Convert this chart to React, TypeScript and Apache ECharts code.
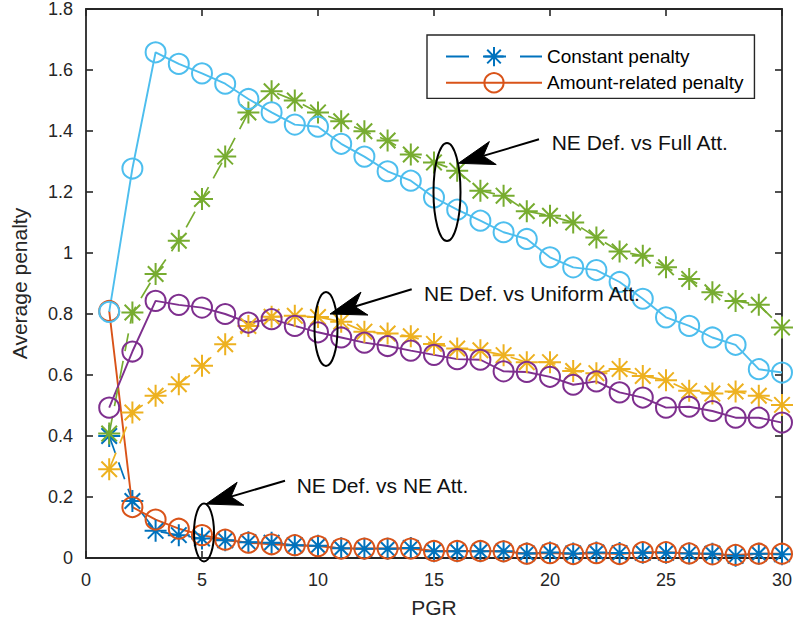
import React, { useEffect, useRef } from "react";
import * as echarts from "echarts";

// ---------- data ----------
const pgr = [1, 2, 3, 4, 5, 6, 7, 8, 9, 10, 11, 12, 13, 14, 15, 16, 17, 18, 19, 20, 21, 22, 23, 24, 25, 26, 27, 28, 29, 30];

// NE Def. vs NE Att.
const constNE = [0.40, 0.187, 0.089, 0.075, 0.064, 0.058, 0.052, 0.050, 0.042, 0.040, 0.032, 0.030, 0.030, 0.033, 0.022, 0.022, 0.022, 0.022, 0.015, 0.018, 0.015, 0.018, 0.016, 0.017, 0.017, 0.015, 0.014, 0.007, 0.014, 0.012];
const amountNE = [0.81, 0.167, 0.126, 0.096, 0.075, 0.060, 0.050, 0.045, 0.042, 0.039, 0.031, 0.031, 0.031, 0.031, 0.023, 0.023, 0.023, 0.022, 0.014, 0.016, 0.013, 0.016, 0.013, 0.019, 0.019, 0.015, 0.012, 0.010, 0.014, 0.014];

// NE Def. vs Uniform Att.
const constUniform = [0.291, 0.477, 0.532, 0.570, 0.630, 0.701, 0.761, 0.791, 0.794, 0.790, 0.775, 0.742, 0.736, 0.727, 0.702, 0.687, 0.681, 0.665, 0.642, 0.642, 0.613, 0.606, 0.620, 0.597, 0.583, 0.548, 0.539, 0.546, 0.532, 0.502];
const amountUniform = [0.493, 0.677, 0.843, 0.830, 0.821, 0.800, 0.772, 0.783, 0.761, 0.740, 0.723, 0.706, 0.695, 0.680, 0.666, 0.652, 0.650, 0.612, 0.610, 0.594, 0.568, 0.579, 0.543, 0.526, 0.493, 0.496, 0.482, 0.460, 0.460, 0.444];

// NE Def. vs Full Att.
const constFull = [0.408, 0.805, 0.931, 1.040, 1.177, 1.316, 1.461, 1.530, 1.500, 1.461, 1.432, 1.399, 1.369, 1.323, 1.297, 1.270, 1.204, 1.188, 1.137, 1.122, 1.100, 1.051, 1.005, 0.991, 0.953, 0.915, 0.871, 0.843, 0.830, 0.756];
const amountFull = [0.807, 1.277, 1.658, 1.620, 1.589, 1.555, 1.505, 1.461, 1.421, 1.414, 1.358, 1.316, 1.268, 1.237, 1.182, 1.142, 1.106, 1.068, 1.046, 0.986, 0.953, 0.944, 0.905, 0.850, 0.789, 0.761, 0.723, 0.699, 0.619, 0.608];

const legendNames = ["Constant penalty", "Amount-related penalty"];
const annotationTexts = ["NE Def. vs Full Att.", "NE Def. vs Uniform Att.", "NE Def. vs NE Att."];
const xAxisName = "PGR";
const yAxisName = "Average penalty";

// ---------- styles ----------
const FONT = "'Liberation Sans', Arial, Helvetica, sans-serif";
const AXIS = "#262626";
const C_BLUE = "#0072BD";
const C_ORANGE = "#D95319";
const C_YELLOW = "#EDB120";
const C_PURPLE = "#7E2F8E";
const C_GREEN = "#77AC30";
const C_CYAN = "#4DBEEE";
const ASTERISK = "path://M10 0L10 20M0 10L20 10M2.93 2.93L17.07 17.07M2.93 17.07L17.07 2.93";
const DASH = [18, 10];

function mkSeries(name: string, values: number[], color: string, constant: boolean) {
  return {
    type: "line",
    name,
    data: pgr.map((x, i) => [x, values[i]]),
    symbol: constant ? ASTERISK : "circle",
    symbolSize: constant ? 22 : 20,
    lineStyle: { color, width: constant ? 1.7 : 1.9, type: constant ? DASH : "solid" },
    itemStyle: { color: "transparent", borderColor: color, borderWidth: 2 },
    emphasis: { disabled: true },
    silent: true,
    animation: false,
  };
}

function arrow(sx: number, sy: number, tx: number, ty: number) {
  const dx = sx - tx;
  const dy = sy - ty;
  const len = Math.sqrt(dx * dx + dy * dy);
  const ux = dx / len;
  const uy = dy / len;
  const nx = -uy;
  const ny = ux;
  const L = 36;
  const W = 12;
  const notch = 26;
  const bx = tx + ux * L;
  const by = ty + uy * L;
  const mx = tx + ux * notch;
  const my = ty + uy * notch;
  return [
    {
      type: "line",
      shape: { x1: sx, y1: sy, x2: mx, y2: my },
      style: { stroke: "#000", lineWidth: 2 },
      z: 100,
    },
    {
      type: "polygon",
      shape: {
        points: [
          [tx, ty],
          [bx + nx * W, by + ny * W],
          [mx, my],
          [bx - nx * W, by - ny * W],
        ],
      },
      style: { fill: "#000", stroke: "#000", lineWidth: 1 },
      z: 100,
    },
  ];
}

function ellipse(cx: number, cy: number, rx: number, ry: number) {
  return {
    type: "ellipse",
    shape: { cx, cy, rx, ry },
    style: { fill: "none", stroke: "#000", lineWidth: 2 },
    z: 100,
  };
}

function label(text: string, x: number, y: number) {
  return {
    type: "text",
    x,
    y,
    style: { text, fill: "#111", font: `21px ${FONT}`, align: "left", verticalAlign: "middle" },
    z: 100,
  };
}

export default function App() {
  const ref = useRef<HTMLDivElement>(null);

  useEffect(() => {
    document.body.style.margin = "0";
    if (!ref.current) return;
    const chart = echarts.init(ref.current, undefined, { renderer: "svg" });

    const axisLine = { show: true, onZero: false, lineStyle: { color: AXIS, width: 1.8 } };
    const axisTick = { show: true, inside: true, length: 7, lineStyle: { color: AXIS, width: 1.6 } };

    const option: any = {
      animation: false,
      backgroundColor: "#fff",
      grid: { left: 86, right: 13, top: 8, bottom: 76, containLabel: false },
      xAxis: [
        {
          type: "value",
          position: "bottom",
          min: 0,
          max: 30,
          interval: 5,
          axisLine,
          axisTick,
          splitLine: { show: false },
          axisLabel: { color: AXIS, fontSize: 18, fontFamily: FONT, margin: 13 },
          name: xAxisName,
          nameLocation: "middle",
          nameGap: 39,
          nameTextStyle: { color: AXIS, fontSize: 21, fontFamily: FONT },
        },
        {
          type: "value",
          position: "top",
          min: 0,
          max: 30,
          interval: 5,
          axisLine,
          axisTick,
          splitLine: { show: false },
          axisLabel: { show: false },
        },
      ],
      yAxis: [
        {
          type: "value",
          position: "left",
          min: 0,
          max: 1.8,
          interval: 0.2,
          axisLine,
          axisTick,
          splitLine: { show: false },
          axisLabel: { color: AXIS, fontSize: 18, fontFamily: FONT, margin: 13 },
          name: yAxisName,
          nameLocation: "middle",
          nameGap: 56,
          nameTextStyle: { color: AXIS, fontSize: 21, fontFamily: FONT },
        },
        {
          type: "value",
          position: "right",
          min: 0,
          max: 1.8,
          interval: 0.2,
          axisLine,
          axisTick,
          splitLine: { show: false },
          axisLabel: { show: false },
        },
      ],
      legend: {
        orient: "vertical",
        left: 427,
        top: 35,
        selectedMode: false,
        backgroundColor: "#fff",
        borderColor: AXIS,
        borderWidth: 1.4,
        padding: [11, 11, 5, 18],
        itemWidth: 96,
        itemHeight: 24,
        itemGap: 5,
        textStyle: { color: "#000", fontSize: 19, fontFamily: FONT },
        data: [
          { name: legendNames[0], lineStyle: { type: [23, 14] } },
          { name: legendNames[1] },
        ],
      },
      series: [
        mkSeries(legendNames[0], constNE, C_BLUE, true),
        mkSeries(legendNames[1], amountNE, C_ORANGE, false),
        mkSeries("Constant penalty (Uniform Att.)", constUniform, C_YELLOW, true),
        mkSeries("Amount-related penalty (Uniform Att.)", amountUniform, C_PURPLE, false),
        mkSeries("Constant penalty (Full Att.)", constFull, C_GREEN, true),
        mkSeries("Amount-related penalty (Full Att.)", amountFull, C_CYAN, false),
      ],
      graphic: [
        ellipse(447, 192, 13.5, 49),
        ellipse(326, 329, 11.5, 37),
        ellipse(204, 532.5, 10, 29),
        ...arrow(539, 139.3, 458.3, 163.3),
        ...arrow(411.7, 289.3, 330, 314),
        ...arrow(285, 480.7, 206, 504),
        label(annotationTexts[0], 551.7, 142.7),
        label(annotationTexts[1], 424, 293.3),
        label(annotationTexts[2], 296.7, 485),
      ],
    };

    chart.setOption(option);
    return () => chart.dispose();
  }, []);

  return (
    <div
      ref={ref}
      style={{ position: "absolute", left: 0, top: 0, width: 795, height: 634, background: "#fff" }}
    />
  );
}
